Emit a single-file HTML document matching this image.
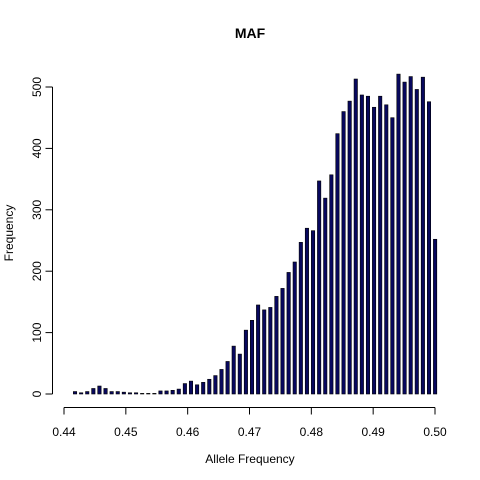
<!DOCTYPE html>
<html><head><meta charset="utf-8"><style>
body{margin:0;background:#fff}
svg{display:block;font-family:"Liberation Sans",Arial,sans-serif}
</style></head><body>
<svg id="c" width="480" height="480">
<text x="250" y="38" font-size="14" font-weight="bold" text-anchor="middle">MAF</text>
<text x="250" y="463" font-size="12" text-anchor="middle">Allele Frequency</text>
<text transform="translate(13,233) rotate(-90)" font-size="12" text-anchor="middle">Frequency</text>
<g id="bars"></g>
<g id="xaxis"></g>
<g id="yaxis"></g>
</svg>
<script>
const counts=[4,2,4,9,13,9,4,4,3,2,2,1,1,1,5,5,6,8,17,21,15,19,24,30,40,53,78,65,104,120,145,137,141,159,172,198,215,247,270,266,347,319,357,424,460,477,513,487,485,467,485,471,450,521,508,517,496,516,476,252];
const xTicks=[0.44,0.45,0.46,0.47,0.48,0.49,0.50];
const xTickLabels=["0.44","0.45","0.46","0.47","0.48","0.49","0.50"];
const yTicks=[0,100,200,300,400,500];
const binStart=0.44129;
const binWidth=0.000987;
const NS="http://www.w3.org/2000/svg";
const X=v=>64+(v-0.44)/0.06*371;
const Y=v=>394-v/500*307;
const bars=document.getElementById('bars');
counts.forEach((c,i)=>{
  const x0=X(binStart+i*binWidth), x1=X(binStart+(i+1)*binWidth);
  const cx=(x0+x1)/2;
  const r=document.createElementNS(NS,'rect');
  r.setAttribute('x',cx-1.7);r.setAttribute('y',Y(c));
  r.setAttribute('width',3.4);r.setAttribute('height',Math.max(0,Y(0)-Y(c)));
  r.setAttribute('fill','#08085e');r.setAttribute('stroke','#000');r.setAttribute('stroke-width','0.6');
  
  
  bars.appendChild(r);
});
const xa=document.getElementById('xaxis');
function ln(g,x1,y1,x2,y2){const l=document.createElementNS(NS,'line');l.setAttribute('x1',x1);l.setAttribute('y1',y1);l.setAttribute('x2',x2);l.setAttribute('y2',y2);l.setAttribute('stroke','#000');g.appendChild(l);return l;}
ln(xa,X(xTicks[0]),407.5,X(xTicks[xTicks.length-1]),407.5);
xTicks.forEach((t,i)=>{
  ln(xa,X(t),407.5,X(t),414.5);
  const tx=document.createElementNS(NS,'text');
  tx.setAttribute('x',X(t));tx.setAttribute('y',436);tx.setAttribute('font-size','12');tx.setAttribute('text-anchor','middle');
  tx.textContent=xTickLabels[i];
  
  
  xa.appendChild(tx);
});
const ya=document.getElementById('yaxis');
ln(ya,52.5,Y(0),52.5,Y(500));
yTicks.forEach(t=>{
  ln(ya,45.5,Y(t),52.5,Y(t));
  const tx=document.createElementNS(NS,'text');
  tx.setAttribute('transform','translate(41,'+Y(t)+') rotate(-90)');
  tx.setAttribute('font-size','12');tx.setAttribute('text-anchor','middle');
  tx.textContent=t;
  
  
  ya.appendChild(tx);
});
</script>
</body></html>
